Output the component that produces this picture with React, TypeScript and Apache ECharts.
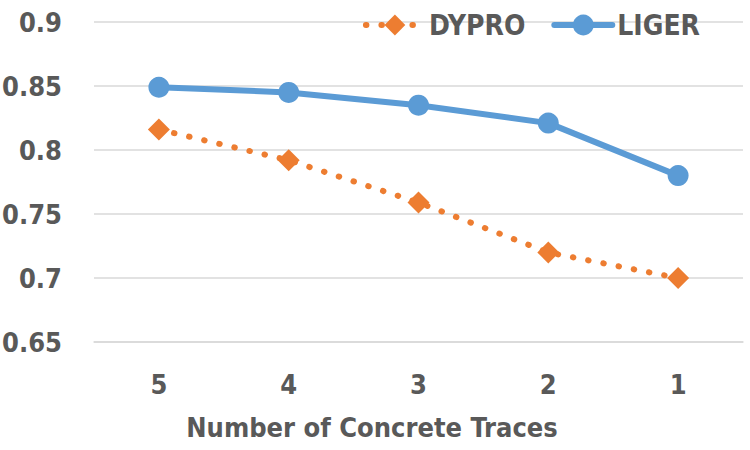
import React, { useEffect, useRef } from "react";
import * as echarts from "echarts";

const categories = ["5", "4", "3", "2", "1"];
const dyproValues = [0.816, 0.792, 0.759, 0.72, 0.7];
const ligerValues = [0.849, 0.845, 0.835, 0.821, 0.78];
const yTicks = { min: 0.65, max: 0.9, interval: 0.05 };

const FONT = "'Liberation Sans Narrow', 'DejaVu Sans Condensed', 'Arial Narrow', sans-serif";
const TEXT = "#595959";

export default function App() {
  const ref = useRef<HTMLDivElement>(null);
  useEffect(() => {
    if (!ref.current) return;
    const chart = echarts.init(ref.current, undefined, { renderer: "svg" });
    chart.setOption({
      animation: false,
      textStyle: { fontFamily: FONT },
      grid: { left: 94, right: 7, top: 22, bottom: 108, containLabel: false, outerBoundsMode: "none" },
      legend: {
        right: 45,
        top: 6,
        itemWidth: 58,
        itemHeight: 26,
        itemGap: 26,
        lineStyle: { width: 6, cap: "round" },
        textStyle: { color: TEXT, fontSize: 28, fontWeight: "bold", fontFamily: FONT },
        data: ["DYPRO", "LIGER"],
      },
      xAxis: {
        type: "category",
        data: categories,
        boundaryGap: true,
        axisLine: { show: true, lineStyle: { color: "#d9d9d9", width: 1.5 } },
        axisTick: { show: false },
        axisLabel: { color: TEXT, fontSize: 27, fontWeight: "bold", margin: 29, fontFamily: FONT },
        name: "Number of Concrete Traces",
        nameLocation: "middle",
        nameGap: 72,
        nameTextStyle: {
          color: TEXT,
          fontSize: 27,
          fontWeight: "bold",
          fontFamily: FONT,
          padding: [0, 93, 0, 0],
        },
      },
      yAxis: {
        type: "value",
        min: yTicks.min,
        max: yTicks.max,
        interval: yTicks.interval,
        axisLine: { show: false },
        axisTick: { show: false },
        splitLine: { lineStyle: { color: "#d9d9d9", width: 1.5 } },
        axisLabel: {
          color: TEXT,
          fontSize: 27,
          fontWeight: "bold",
          margin: 32,
          fontFamily: FONT,
          formatter: (v: number) => String(Number(v.toFixed(2))),
        },
      },
      series: [
        {
          name: "DYPRO",
          type: "line",
          data: dyproValues,
          symbol: "diamond",
          symbolSize: 22,
          itemStyle: { color: "#ed7d31" },
          lineStyle: { color: "#ed7d31", width: 6, type: [0.5, 15], cap: "round" },
          z: 2,
        },
        {
          name: "LIGER",
          type: "line",
          data: ligerValues,
          symbol: "circle",
          symbolSize: 21,
          itemStyle: { color: "#5b9bd5" },
          lineStyle: { color: "#5b9bd5", width: 6 },
          z: 3,
        },
      ],
    });
    return () => chart.dispose();
  }, []);
  return (
    <div
      ref={ref}
      style={{ position: "fixed", left: 0, top: 0, width: 750, height: 450, background: "#fff" }}
    />
  );
}
